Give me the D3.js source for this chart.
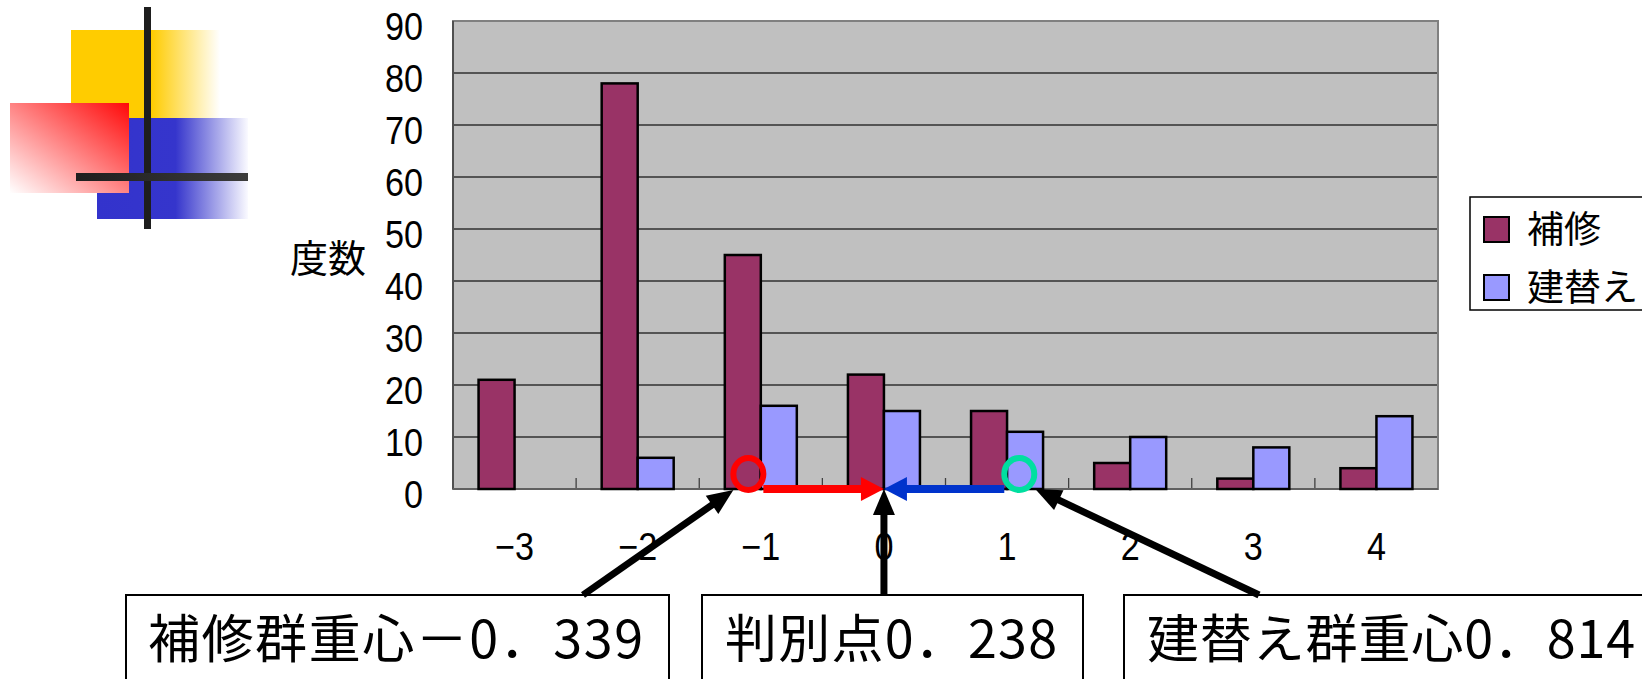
<!DOCTYPE html>
<html>
<head>
<meta charset="utf-8">
<script src="https://cdn.jsdelivr.net/npm/d3@7"></script>
<style>
  html, body { margin: 0; padding: 0; background: #ffffff; }
  svg { display: block; }
</style>
</head>
<body>
<svg id="chart" width="1642" height="679"></svg>
<script>
// Discriminant score bins and counts per group
const categories = ["-3", "-2", "-1", "0", "1", "2", "3", "4"];
const tickLabels = ["−3", "−2", "−1", "0", "1", "2", "3", "4"];
const seriesNames = ["補修", "建替え"];
const repairCounts = [21, 78, 45, 22, 15, 5, 2, 4];
const rebuildCounts = [0, 6, 16, 15, 11, 10, 8, 14];
const yTicks = [0, 10, 20, 30, 40, 50, 60, 70, 80, 90];
const yTitle = "度数";

// Group centroids and the cut-off point on the discriminant score
const repairCentroid = -0.339;
const cutPoint = 0.238;
const rebuildCentroid = 0.814;
const scorePerBin = 0.524;   // score distance between neighbouring bin centres

const seriesColors = ["#993366", "#9999FF"];

const svg = d3.select("#chart");
const plot = { left: 453, right: 1438, top: 21, bottom: 489 };

// ---------- decorative template graphic (top left) ----------
const defs = svg.append("defs");
const yellowGrad = defs.append("linearGradient").attr("id", "yellowFade");
yellowGrad.append("stop").attr("offset", 0).attr("stop-color", "#FFCC00");
yellowGrad.append("stop").attr("offset", 0.54).attr("stop-color", "#FFCC00");
yellowGrad.append("stop").attr("offset", 1).attr("stop-color", "#FFFFFF");

const blueGrad = defs.append("linearGradient").attr("id", "blueFade");
blueGrad.append("stop").attr("offset", 0).attr("stop-color", "#3333CC");
blueGrad.append("stop").attr("offset", 0.52).attr("stop-color", "#3535CC");
blueGrad.append("stop").attr("offset", 1).attr("stop-color", "#FAFAFF");

const redGrad = defs.append("linearGradient").attr("id", "redFade")
  .attr("x1", 1).attr("y1", 0).attr("x2", 0).attr("y2", 1);
redGrad.append("stop").attr("offset", 0).attr("stop-color", "#FF0808");
redGrad.append("stop").attr("offset", 1).attr("stop-color", "#FFFFFF");

const barGrad = defs.append("linearGradient").attr("id", "barFade");
barGrad.append("stop").attr("offset", 0).attr("stop-color", "#1E1E1E");
barGrad.append("stop").attr("offset", 1).attr("stop-color", "#3C3C3C");

const deco = svg.append("g").attr("class", "deco");
deco.append("rect").attr("x", 71).attr("y", 30).attr("width", 149).attr("height", 89).attr("fill", "url(#yellowFade)");
deco.append("rect").attr("x", 97).attr("y", 118).attr("width", 151).attr("height", 101).attr("fill", "url(#blueFade)");
deco.append("rect").attr("x", 10).attr("y", 103).attr("width", 119).attr("height", 90).attr("fill", "url(#redFade)");
deco.append("rect").attr("x", 144).attr("y", 7).attr("width", 7).attr("height", 222).attr("fill", "#1E1E1E");
deco.append("rect").attr("x", 76).attr("y", 173).attr("width", 172).attr("height", 8).attr("fill", "url(#barFade)");

// ---------- scales ----------
const x = d3.scaleBand().domain(categories).range([plot.left, plot.right]).padding(0);
const xInner = d3.scaleBand().domain(seriesNames).range([0, x.bandwidth()])
  .paddingInner(0).paddingOuter(0.71);
const y = d3.scaleLinear().domain([0, 90]).range([plot.bottom, plot.top]);
const xCenter = c => x(c) + x.bandwidth() / 2;

// ---------- plot area ----------
svg.append("rect")
  .attr("x", plot.left).attr("y", plot.top)
  .attr("width", plot.right - plot.left).attr("height", plot.bottom - plot.top)
  .attr("fill", "#C0C0C0");

svg.append("g").selectAll("line")
  .data(yTicks.filter(v => v > 0 && v < 90))
  .join("line")
  .attr("x1", plot.left).attr("x2", plot.right)
  .attr("y1", d => y(d)).attr("y2", d => y(d))
  .attr("stroke", "#303030").attr("stroke-width", 1.3);

// tick marks between bins, pointing into the plot
svg.append("g").selectAll("line")
  .data(categories.slice(1))
  .join("line")
  .attr("x1", d => x(d)).attr("x2", d => x(d))
  .attr("y1", plot.bottom).attr("y2", plot.bottom - 11)
  .attr("stroke", "#404040").attr("stroke-width", 1.3);

svg.append("rect")
  .attr("x", plot.left).attr("y", plot.top)
  .attr("width", plot.right - plot.left).attr("height", plot.bottom - plot.top)
  .attr("fill", "none").attr("stroke", "#808080").attr("stroke-width", 2);
svg.append("line")
  .attr("x1", plot.left).attr("x2", plot.left)
  .attr("y1", plot.top).attr("y2", plot.bottom)
  .attr("stroke", "#505050").attr("stroke-width", 2);
svg.append("line")
  .attr("x1", plot.left).attr("x2", plot.right)
  .attr("y1", plot.bottom).attr("y2", plot.bottom)
  .attr("stroke", "#606060").attr("stroke-width", 2);

// ---------- bars ----------
const rows = categories.map((c, i) => ({ cat: c, values: [repairCounts[i], rebuildCounts[i]] }));
svg.append("g").selectAll("g")
  .data(rows)
  .join("g")
  .attr("transform", d => `translate(${x(d.cat)},0)`)
  .selectAll("rect")
  .data(d => d.values.map((v, k) => ({ v, k })).filter(e => e.v > 0))
  .join("rect")
  .attr("x", d => xInner(seriesNames[d.k]))
  .attr("width", xInner.bandwidth())
  .attr("y", d => y(d.v))
  .attr("height", d => y(0) - y(d.v))
  .attr("fill", d => seriesColors[d.k])
  .attr("stroke", "#000").attr("stroke-width", 2.5);

// ---------- axes (narrow-set numerals) ----------
const axisFont = "'Liberation Sans', Arial, sans-serif";
const squeeze = 0.9;
const yPad = 30;
const yAxis = svg.append("g")
  .attr("transform", `translate(${plot.left},0)`)
  .call(d3.axisLeft(y).tickValues(yTicks).tickSize(0).tickPadding(yPad).tickFormat(d3.format("d")));
yAxis.select(".domain").remove();
yAxis.selectAll("text")
  .attr("x", -yPad / squeeze)
  .attr("dy", "0.49em")
  .attr("transform", `scale(${squeeze},1)`)
  .attr("fill", "#000")
  .style("font-family", axisFont).style("font-size", "38px");

const xAxis = svg.append("g")
  .attr("transform", `translate(0,${plot.bottom})`)
  .call(d3.axisBottom(x).tickSize(0).tickPadding(44).tickFormat((d, i) => tickLabels[i]));
xAxis.select(".domain").remove();
xAxis.selectAll("text")
  .attr("transform", `scale(${squeeze},1)`)
  .attr("fill", "#000")
  .style("font-family", axisFont).style("font-size", "38px");

const cjkFont = "'Noto Sans CJK JP', 'Noto Sans CJK SC', sans-serif";
svg.append("text")
  .attr("x", 290).attr("y", 272)
  .attr("fill", "#000")
  .style("font-family", cjkFont).style("font-size", "38px")
  .text(yTitle);

// ---------- legend ----------
const legend = svg.append("g").attr("transform", "translate(1470,197)");
legend.append("rect").attr("width", 220).attr("height", 113)
  .attr("fill", "#fff").attr("stroke", "#000").attr("stroke-width", 1.5);
seriesNames.forEach((name, k) => {
  legend.append("rect")
    .attr("x", 14).attr("y", 20 + k * 58).attr("width", 25).attr("height", 25)
    .attr("fill", seriesColors[k]).attr("stroke", "#000").attr("stroke-width", 2);
  legend.append("text")
    .attr("x", 57).attr("y", 46 + k * 58)
    .attr("fill", "#000")
    .style("font-family", cjkFont).style("font-size", "37px")
    .text(name);
});

// ---------- centroid / cut-off annotations ----------
const scoreX = d3.scaleLinear()
  .domain([cutPoint, cutPoint + scorePerBin])
  .range([xCenter("0"), xCenter("1")]);
const baseY = y(0);
const repairX = scoreX(repairCentroid);
const cutX = scoreX(cutPoint);
const rebuildX = scoreX(rebuildCentroid);

function arrow(g, x1, y1, x2, y2, color, width, headLen, headHalf) {
  const dx = x2 - x1, dy = y2 - y1;
  const len = Math.hypot(dx, dy);
  const ux = dx / len, uy = dy / len;
  const bx = x2 - ux * headLen, by = y2 - uy * headLen;
  g.append("line")
    .attr("x1", x1).attr("y1", y1).attr("x2", bx + ux * 1).attr("y2", by + uy * 1)
    .attr("stroke", color).attr("stroke-width", width);
  g.append("polygon")
    .attr("points", [
      [x2, y2],
      [bx - uy * headHalf, by + ux * headHalf],
      [bx + uy * headHalf, by - ux * headHalf]
    ].map(p => p.join(",")).join(" "))
    .attr("fill", color);
}

const ann = svg.append("g");
arrow(ann, repairX + 15, baseY, cutX, baseY, "#FF0000", 8, 23, 12);
arrow(ann, rebuildX - 15, baseY, cutX, baseY, "#0033CC", 8, 23, 12);

ann.append("ellipse")
  .attr("cx", repairX).attr("cy", baseY - 15).attr("rx", 15).attr("ry", 16)
  .attr("fill", "none").attr("stroke", "#FF0000").attr("stroke-width", 6);
ann.append("ellipse")
  .attr("cx", rebuildX).attr("cy", baseY - 15).attr("rx", 15).attr("ry", 16)
  .attr("fill", "none").attr("stroke", "#00DFA0").attr("stroke-width", 6);

// callout boxes
const fmtScore = v => (v < 0 ? "－" : "") + Math.abs(v).toFixed(3).replace(".", "．");
const callouts = [
  { text: "補修群重心" + fmtScore(repairCentroid), x: 126, w: 543, tx: 148, tl: 495, tail: [583, 595], tip: [repairX - 15, baseY + 1] },
  { text: "判別点" + fmtScore(cutPoint), x: 702, w: 381, tx: 725, tl: 332, tail: [cutX, 595], tip: [cutX, baseY] },
  { text: "建替え群重心" + fmtScore(rebuildCentroid), x: 1124, w: 560, tx: 1147, tl: 488, tail: [1259, 595], tip: [rebuildX + 16, baseY] }
];
const boxes = svg.append("g");
callouts.forEach(c => {
  boxes.append("rect")
    .attr("x", c.x).attr("y", 595).attr("width", c.w).attr("height", 100)
    .attr("fill", "#fff").attr("stroke", "#000").attr("stroke-width", 2);
  boxes.append("text")
    .attr("x", c.tx).attr("y", 658)
    .attr("textLength", c.tl).attr("lengthAdjust", "spacing")
    .attr("fill", "#000")
    .style("font-family", cjkFont).style("font-size", "52px")
    .text(c.text);
});
const pointers = svg.append("g");
callouts.forEach(c => {
  arrow(pointers, c.tail[0], c.tail[1], c.tip[0], c.tip[1], "#000", 7, 26, 11);
});
</script>
</body>
</html>
